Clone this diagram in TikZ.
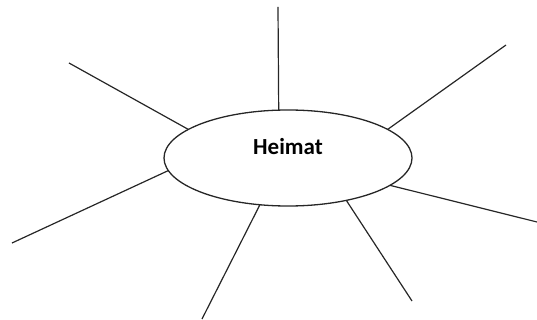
\documentclass[tikz,border=0pt]{standalone}
\usepackage{fontspec}
\setmainfont{Carlito}
\usetikzlibrary{shapes.geometric}
\begin{document}
\begin{tikzpicture}[x=1pt,y=-1pt,
  spoke/.style={draw=black!85, line width=1.2pt},
  hubshape/.style={ellipse, draw=black!85, line width=1.3pt, minimum width=248pt,
    minimum height=96pt, inner sep=0pt, outer sep=0pt},
  title/.style={font=\bfseries\fontsize{23}{26}\selectfont, inner sep=0pt}]
  \useasboundingbox (0,0) rectangle (537,320);
  % central ellipse and its label
  \node[hubshape] (hub) at (288,158) {};
  \node[title] (lbl) at (288,147) {Heimat};
  % free ends of the spokes
  \coordinate (top) at (278,7);
  \coordinate (ul) at (69,63);
  \coordinate (ur) at (506,45);
  \coordinate (r) at (537,222);
  \coordinate (lr) at (412,301);
  \coordinate (lb) at (202,319);
  \coordinate (l) at (12,243);
  % spokes from the ellipse outwards
  \draw[spoke] (hub.101) -- (top);
  \draw[spoke] (hub.164.6) -- (ul);
  \draw[spoke] (hub.16.1) -- (ur);
  \draw[spoke] (hub.-15.6) -- (r);
  \draw[spoke] (hub.-36) -- (lr);
  \draw[spoke] (hub.239.9) -- (lb);
  \draw[spoke] (hub.186) -- (l);
\end{tikzpicture}
\end{document}
